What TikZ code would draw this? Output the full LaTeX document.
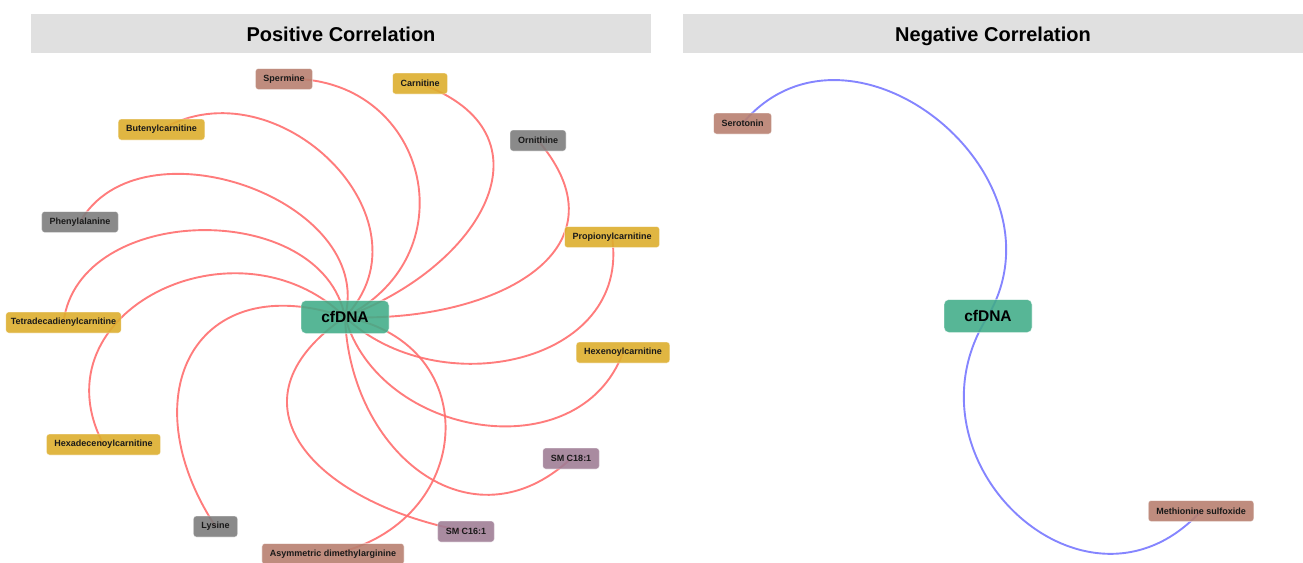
\documentclass[tikz,border=0pt]{standalone}
\usepackage{fontspec}
\setmainfont{Liberation Sans}
\usetikzlibrary{calc}
\definecolor{hdrgray}{RGB}{224,224,224}
\definecolor{cfgreen}{RGB}{64,172,136}
\definecolor{ylw}{RGB}{221,174,46}
\definecolor{brn}{RGB}{184,128,112}
\definecolor{gry}{RGB}{125,125,125}
\definecolor{prp}{RGB}{160,126,150}
\definecolor{redge}{RGB}{255,110,110}
\definecolor{bedge}{RGB}{120,120,255}
\tikzset{
  header/.style={fill=hdrgray, draw=none},
  htext/.style={font=\bfseries\fontsize{20}{24}\selectfont, anchor=base},
  leaf/.style={rounded corners=3pt, fill=#1, fill opacity=0.9, text opacity=1,
    draw=white, draw opacity=0.5, line width=0.6pt,
    inner xsep=8pt, inner ysep=0pt, minimum height=21pt,
    font=\bfseries\fontsize{9}{10}\selectfont, text=black!90},
  hub/.style={rounded corners=5pt, fill=cfgreen, fill opacity=0.88, text opacity=1,
    draw=white, draw opacity=0.5, line width=0.6pt,
    minimum width=88pt, minimum height=33pt, inner sep=0pt,
    font=\bfseries\fontsize{15.5}{18}\selectfont},
  posedge/.style={draw=redge, line width=1.9pt, draw opacity=0.9},
  negedge/.style={draw=bedge, line width=1.9pt, draw opacity=0.9},
}
% #1 style, #2 from, #3 to, #4 angle at from, #5 angle at to, #6 control length (fraction of chord)
\newcommand\cedge[6]{\draw[#1] (#2.center) .. controls ($(#2.center)!#6!#4:(#3.center)$) and ($(#3.center)!#6!#5:(#2.center)$) .. (#3.center);}
\begin{document}
\begin{tikzpicture}[x=1pt,y=-1pt]
\useasboundingbox (0,0) rectangle (1303,562);
% headers
\fill[header] (31,14) rectangle (651,53);
\fill[header] (683,14) rectangle (1303,53);
\node[htext] (hpos) at (341,41.5) {Positive Correlation};
\node[htext] (hneg) at (993,41.5) {Negative Correlation};
% node positions
\path (345,317) coordinate (cfl)
      (284,79) coordinate (sper)
      (420,83.5) coordinate (carn)
      (161.5,129.5) coordinate (but)
      (538,140.5) coordinate (orn)
      (80,222) coordinate (phe)
      (612,237) coordinate (pro)
      (63.5,322.5) coordinate (tet)
      (623,352.5) coordinate (hex)
      (103.5,444.5) coordinate (hxd)
      (571,458.5) coordinate (smb)
      (215.5,526.5) coordinate (lys)
      (466,531.5) coordinate (sma)
      (333,554) coordinate (adma)
      (988,316) coordinate (cfr)
      (742.5,123.5) coordinate (sero)
      (1201,511) coordinate (meth);
% edges
\cedge{posedge}{cfl}{sper}{-78}{78}{0.58}
\cedge{posedge}{cfl}{carn}{-52}{88}{0.60}
\cedge{posedge}{cfl}{but}{-88}{76}{0.51}
\cedge{posedge}{cfl}{phe}{-85}{80}{0.43}
\cedge{posedge}{cfl}{tet}{-80}{82}{0.43}
\cedge{posedge}{cfl}{hxd}{-72}{90}{0.55}
\cedge{posedge}{cfl}{lys}{-77}{65}{0.64}
\cedge{posedge}{cfl}{adma}{82}{-75}{0.61}
\cedge{posedge}{cfl}{sma}{-85}{50}{0.62}
\cedge{posedge}{cfl}{smb}{-56}{75}{0.51}
\cedge{posedge}{cfl}{hex}{-67}{77}{0.45}
\cedge{posedge}{cfl}{pro}{-60}{82}{0.46}
\cedge{posedge}{cfl}{orn}{-45}{88}{0.56}
\cedge{negedge}{cfr}{sero}{-82}{88}{0.53}
\cedge{negedge}{cfr}{meth}{-80}{90}{0.59}
% nodes
\node[hub] (ncfl) at (cfl) {cfDNA};
\node[leaf=brn] (nsper) at (sper) {Spermine};
\node[leaf=ylw] (ncarn) at (carn) {Carnitine};
\node[leaf=ylw] (nbut) at (but) {Butenylcarnitine};
\node[leaf=gry] (norn) at (orn) {Ornithine};
\node[leaf=gry] (nphe) at (phe) {Phenylalanine};
\node[leaf=ylw] (npro) at (pro) {Propionylcarnitine};
\node[leaf=ylw, inner xsep=5pt] (ntet) at (tet) {Tetradecadienylcarnitine};
\node[leaf=ylw] (nhex) at (hex) {Hexenoylcarnitine};
\node[leaf=ylw] (nhxd) at (hxd) {Hexadecenoylcarnitine};
\node[leaf=prp] (nsmb) at (smb) {SM C18:1};
\node[leaf=gry] (nlys) at (lys) {Lysine};
\node[leaf=prp] (nsma) at (sma) {SM C16:1};
\node[leaf=brn] (nadma) at (adma) {Asymmetric dimethylarginine};
\node[hub] (ncfr) at (cfr) {cfDNA};
\node[leaf=brn] (nsero) at (sero) {Serotonin};
\node[leaf=brn] (nmeth) at (meth) {Methionine sulfoxide};
\end{tikzpicture}
\end{document}
